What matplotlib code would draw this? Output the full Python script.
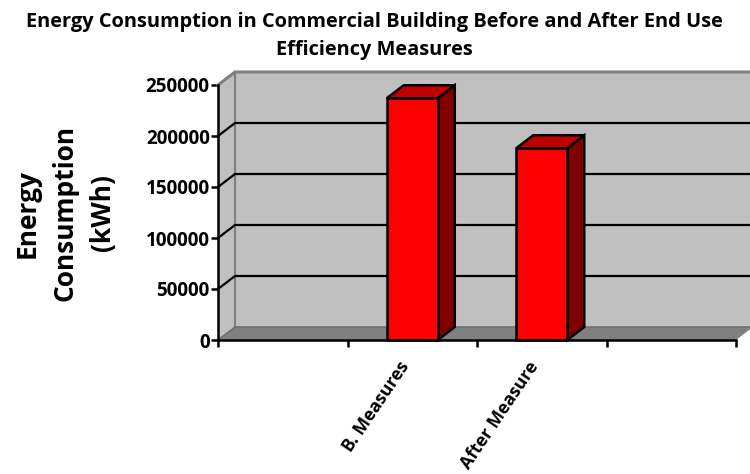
import matplotlib
matplotlib.use('Agg')
import matplotlib.pyplot as plt
from matplotlib.patches import Polygon
from matplotlib.transforms import ScaledTranslation

categories = ['', 'B. Measures', 'After Measure', '']
values = [0, 237000, 188000, 0]
y_ticks = [0, 50000, 100000, 150000, 200000, 250000]
title = 'Energy Consumption in Commercial Building Before and After End Use\nEfficiency Measures'
y_title = 'Energy\nConsumption\n(kWh)'

plt.rcParams['font.family'] = ['Open Sans', 'DejaVu Sans']
plt.rcParams['font.weight'] = 'bold'

W, H = 750, 474
fig = plt.figure(figsize=(W / 100, H / 100), dpi=100)
# front plane of the fake 3d box, in pixels
left, right, top, bottom = 218, 736, 85, 340
ax = fig.add_axes([left / W, 1 - bottom / H, (right - left) / W, (bottom - top) / H])
ax.set_xlim(-0.5, 3.5)
ax.set_ylim(0, 250000)
ax.patch.set_visible(False)

# depth offset of the box, in data units
dx = 17 / ((right - left) / 4)
dy = 13 / ((bottom - top) / 250000)
x0, x1 = -0.5, 3.5
ymax = 250000
bar_w = 0.394


def poly(pts, fc, ec='none', lw=0, z=1):
    ax.add_patch(Polygon(pts, closed=True, facecolor=fc, edgecolor=ec, linewidth=lw,
                         zorder=z, clip_on=False, joinstyle='miter'))


# walls and floor
poly([(x0 + dx, dy), (x1 + dx, dy), (x1 + dx, ymax + dy), (x0 + dx, ymax + dy)], '#c0c0c0')
poly([(x0, 0), (x0 + dx, dy), (x0 + dx, ymax + dy), (x0, ymax)], '#c0c0c0')
poly([(x0, 0), (x1, 0), (x1 + dx, dy), (x0 + dx, dy)], '#808080')
ax.plot([x0, x0 + dx, x1 + dx], [ymax, ymax + dy, ymax + dy], color='#808080', lw=2.2, zorder=2,
        clip_on=False, solid_joinstyle='miter')
ax.plot([x0 + dx, x0 + dx], [dy, ymax + dy], color='#808080', lw=1.6, zorder=2, clip_on=False)
ax.plot([x0, x0 + dx, x1 + dx], [0, dy, dy], color='#707070', lw=1.2, zorder=2, clip_on=False)

# gridlines: back wall plus the diagonal on the side wall
for t in y_ticks[1:-1]:
    ax.plot([x0, x0 + dx, x1 + dx], [t, t + dy, t + dy], color='black', lw=1.6, zorder=3,
            clip_on=False, solid_joinstyle='miter')

# bars
for i, v in enumerate(values):
    if v == 0:
        continue
    xl, xr = i - bar_w / 2, i + bar_w / 2
    poly([(xr, 0), (xr + dx, dy), (xr + dx, v + dy), (xr, v)], '#800000', 'black', 1.8, 4)
    poly([(xl, v), (xr, v), (xr + dx, v + dy), (xl + dx, v + dy)], '#c00000', 'black', 1.8, 4)
    poly([(xl, 0), (xr, 0), (xr, v), (xl, v)], '#ff0000', 'black', 1.8, 5)

for s in ['top', 'right']:
    ax.spines[s].set_visible(False)
for s in ['left', 'bottom']:
    ax.spines[s].set_linewidth(1.8)
    ax.spines[s].set_zorder(6)

ax.set_yticks(y_ticks)
ax.set_yticklabels([str(t) for t in y_ticks], fontsize=13.6, fontweight='bold')
ax.tick_params(axis='y', length=5, width=1.8, pad=1)
ax.set_xticks([-0.5, 0.5, 1.5, 2.5, 3.5])
ax.set_xticklabels([])
ax.tick_params(axis='x', which='major', length=5, width=1.8)
ax.set_xticks(range(len(categories)), minor=True)
ax.set_xticklabels(categories, minor=True, rotation=56, ha='right', va='top',
                   rotation_mode='anchor', fontsize=12.6, fontweight='bold')
ax.tick_params(axis='x', which='minor', length=0, pad=13)
# labels end left of the category centre
shift = ScaledTranslation(-14 / 100, 0, fig.dpi_scale_trans)
for lab in ax.get_xticklabels(minor=True):
    lab.set_transform(lab.get_transform() + shift)

fig.text(374 / W, 1 - 36 / H, title, ha='center', va='center', fontsize=14.4, fontweight='bold',
         linespacing=1.6)
fig.text(65 / W, 1 - 213 / H, y_title, ha='center', va='center', rotation=90, fontsize=19,
         fontweight='bold', linespacing=1.5)

fig.savefig('out.png', dpi=100, facecolor='white')
